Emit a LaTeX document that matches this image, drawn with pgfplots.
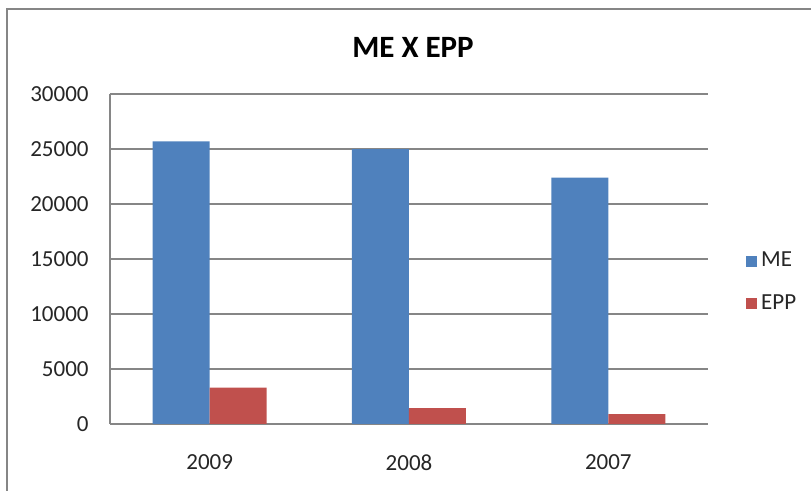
\documentclass[border=0pt]{standalone}
\usepackage{fontspec}
\setmainfont{Carlito}
\usepackage{pgfplots}
\pgfplotsset{compat=1.18}
\definecolor{meblue}{HTML}{4F81BD}
\definecolor{eppred}{HTML}{C0504D}
\definecolor{gridgray}{HTML}{868686}
\begin{document}
\begin{tikzpicture}
\useasboundingbox (0,0) rectangle (405.5pt,-245.5pt);
\draw[color=gridgray, line width=0.9pt] (3.5pt,-246pt) -- (3.5pt,-4.5pt) -- (406pt,-4.5pt);
\node[font=\bfseries\fontsize{15.5}{18}\selectfont, text=black] at (206.5pt,-23.5pt) {ME X EPP};
\begin{axis}[
  at={(55pt,-212pt)}, anchor=south west,
  scale only axis, width=299pt, height=165pt,
  ybar=0pt, bar width=28.5pt,
  xmin=-0.5, xmax=2.5, ymin=0, ymax=30000,
  xtick={0,1,2}, xticklabels={2009,2008,2007},
  ytick={0,5000,10000,15000,20000,25000,30000},
  scaled ticks=false,
  /pgf/number format/1000 sep={},
  /pgf/number format/assume math mode=true,
  major tick length=0pt,
  axis lines*=left,
  axis line style={color=gridgray, line width=0.6pt, -},
  ymajorgrids, grid style={color=gridgray, line width=0.6pt},
  tick label style={font=\fontsize{11.5}{13.5}\selectfont, text=black!85},
  yticklabel style={inner sep=0pt, anchor=east, xshift=-10.5pt},
  xticklabel style={inner sep=0pt, anchor=north, yshift=-15pt},
  legend style={at={(1,0.429)}, anchor=west, xshift=19pt, draw=none, inner sep=0pt,
    font=\fontsize{11.5}{13.5}\selectfont, row sep=12.5pt,
    nodes={inner sep=0pt, text=black!85}, legend cell align=left},
  legend image code/.code={\fill[#1,draw=none] (0pt,-2.75pt) rectangle (5.5pt,2.75pt);},
]
\addplot[fill=meblue, draw=none] coordinates {(0,25700) (1,25000) (2,22400)};
\addplot[fill=eppred, draw=none] coordinates {(0,3300) (1,1450) (2,900)};
\legend{\,ME,\,EPP}
\end{axis}
\end{tikzpicture}
\end{document}
